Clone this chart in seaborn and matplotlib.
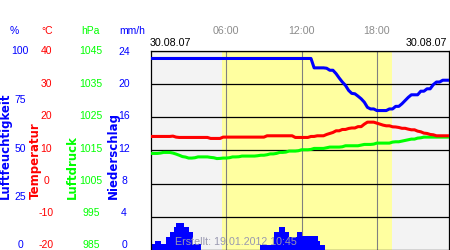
import numpy as np
import matplotlib
matplotlib.use("Agg")
import matplotlib.pyplot as plt
import seaborn as sns

# ---------------- data ----------------
# 15-minute samples from 00:00 to 23:45
humidity = [
    96.0, 96.0, 96.0, 96.0, 96.0, 96.0, 96.0, 96.0, 96.0, 96.0, 96.0, 96.0,
    96.0, 96.0, 96.0, 96.0, 96.0, 96.0, 96.0, 96.0, 96.0, 96.0, 96.0, 96.0,
    96.0, 96.0, 96.0, 96.0, 96.0, 96.0, 96.0, 96.0, 96.0, 96.0, 96.0, 96.0,
    96.0, 96.0, 96.0, 96.0, 96.0, 96.0, 96.0, 96.0, 96.0, 96.0, 96.0, 96.0,
    96.0, 96.0, 96.0, 96.0, 91.3, 91.3, 91.3, 91.3, 91.1, 90.1, 90.1, 88.4,
    86.2, 84.2, 82.5, 80.0, 78.5, 78.3, 77.1, 75.8, 74.1, 71.5, 70.7, 70.7,
    69.9, 69.9, 69.9, 69.9, 70.7, 70.7, 72.0, 72.0, 73.3, 74.9, 76.5, 77.8,
    77.8, 77.8, 79.6, 79.6, 80.8, 80.8, 82.9, 84.2, 84.2, 85.1, 85.1, 85.1,
]
temperature = [
    14.15, 14.15, 14.15, 14.15, 14.15, 14.15, 14.15, 14.25, 13.95, 13.85, 13.85, 13.85,
    13.85, 13.85, 13.85, 13.85, 13.85, 13.85, 13.85, 13.55, 13.55, 13.55, 13.55, 13.95,
    13.95, 13.95, 13.95, 13.95, 13.95, 13.95, 13.95, 13.95, 13.95, 13.95, 13.95, 13.95,
    13.95, 14.35, 14.35, 14.35, 14.35, 14.35, 14.35, 14.35, 14.35, 14.35, 13.85, 13.85,
    13.85, 13.85, 13.85, 14.15, 14.15, 14.35, 14.35, 14.35, 14.75, 15.05, 15.35, 15.85,
    15.85, 16.25, 16.25, 16.55, 16.70, 16.70, 17.10, 17.10, 17.85, 18.45, 18.45, 18.45,
    18.15, 17.85, 17.55, 17.35, 17.35, 17.05, 17.00, 16.85, 16.60, 16.60, 16.35, 16.15,
    16.15, 15.75, 15.55, 15.15, 15.05, 14.75, 14.65, 14.35, 14.35, 14.35, 14.35, 14.35,
]
pressure = [
    1014.05, 1014.05, 1014.05, 1014.15, 1014.35, 1014.35, 1014.35, 1014.15, 1013.85, 1013.50, 1013.10, 1012.95,
    1012.65, 1012.65, 1012.75, 1013.00, 1013.00, 1013.00, 1013.00, 1012.85, 1012.75, 1012.50, 1012.55, 1012.65,
    1012.65, 1012.75, 1013.00, 1013.00, 1013.05, 1013.25, 1013.25, 1013.25, 1013.25, 1013.25, 1013.35, 1013.50,
    1013.50, 1013.65, 1013.90, 1013.90, 1014.05, 1014.35, 1014.35, 1014.45, 1014.75, 1014.75, 1014.75, 1014.85,
    1015.15, 1015.15, 1015.15, 1015.25, 1015.55, 1015.55, 1015.55, 1015.55, 1015.75, 1015.95, 1015.95, 1015.95,
    1015.95, 1016.05, 1016.35, 1016.35, 1016.35, 1016.35, 1016.35, 1016.55, 1016.75, 1016.75, 1016.75, 1016.85,
    1017.15, 1017.15, 1017.15, 1017.15, 1017.15, 1017.45, 1017.55, 1017.55, 1017.75, 1017.95, 1018.15, 1018.35,
    1018.35, 1018.65, 1018.75, 1018.95, 1018.95, 1018.95, 1018.95, 1018.95, 1018.95, 1018.95, 1018.95, 1018.95,
]
# 10-minute precipitation rates (mm/h) from 00:00 to 13:50
precip = [
    0.69, 0.69, 1.08, 1.08, 1.08, 0.69, 0.69, 1.60, 1.60, 2.20, 2.20, 2.73,
    3.28, 3.28, 3.28, 3.28, 2.73, 2.73, 2.17, 2.17, 0.69, 0.69, 0.69, 0.69,
    0.0, 0.0, 0.0, 0.0, 0.0, 0.0, 0.0, 0.0, 0.0, 0.0, 0.0, 0.0,
    0.0, 0.0, 0.0, 0.0, 0.0, 0.0, 0.0, 0.0, 0.0, 0.0, 0.0, 0.0,
    0.0, 0.0, 0.0, 0.0, 0.60, 0.60, 0.60, 0.60, 0.60, 0.60, 0.60, 2.20,
    2.20, 2.80, 2.80, 2.80, 2.20, 2.20, 1.60, 1.60, 1.60, 1.60, 2.20, 2.20,
    1.68, 1.68, 1.68, 1.68, 1.68, 1.68, 1.68, 1.68, 1.12, 0.60, 0.60,
]
sunrise, sunset = 5.65, 19.2
time_ticks = [6, 12, 18]
time_labels = ["06:00", "12:00", "18:00"]
date_left = "30.08.07"
date_right = "30.08.07"
created = "Erstellt: 19.01.2012 10:45"

hum_ticks = [0, 25, 50, 75, 100]
temp_ticks = [-20, -10, 0, 10, 20, 30, 40]
pres_ticks = [985, 995, 1005, 1015, 1025, 1035, 1045]
prec_ticks = [0, 4, 8, 12, 16, 20, 24]

hours = np.arange(len(humidity)) * 0.25
precip_hours = np.arange(len(precip)) / 6.0

# ---------------- style ----------------
sns.set_theme(style="white")
plt.rcParams["font.family"] = ["Liberation Sans", "DejaVu Sans"]

BLUE = "#0000ff"
RED = "#ff0000"
GREEN = "#00ff00"

fig = plt.figure(figsize=(4.5, 2.5), dpi=100)
L, W = 151 / 450, 298 / 450
B, H = 0.0, 199.5 / 250
ax = fig.add_axes([L, B, W, H])
ax.set_facecolor("#f3f3f3")
ax.axvspan(sunrise, sunset, color="#ffffa0", lw=0, zorder=0)
ax.set_xlim(0, 23.75)
ax.set_ylim(prec_ticks[0], prec_ticks[-1])
ax.set_yticks(prec_ticks)
ax.set_yticklabels([])
ax.tick_params(axis="y", length=0)
ax.set_xticks(time_ticks)
ax.set_xticklabels(time_labels)
ax.xaxis.tick_top()
ax.tick_params(axis="x", length=0, labelsize=7.7, labelcolor="#8c8c8c", pad=10.5)
ax.grid(True, axis="y", color="black", lw=0.9)
ax.grid(True, axis="x", color="#808080", lw=0.8)
ax.set_axisbelow(True)
for s in ["top", "left", "right"]:
    ax.spines[s].set_color("black")
    ax.spines[s].set_linewidth(0.9)
ax.spines["bottom"].set_visible(False)

ax.bar(precip_hours, precip, width=1 / 6, align="edge", color=BLUE, lw=0, zorder=2)


def data_twin(lims):
    t = ax.twinx()
    t.set_ylim(*lims)
    t.set_yticks([])
    for s in t.spines.values():
        s.set_visible(False)
    return t


pres_ax = data_twin((pres_ticks[0], pres_ticks[-1]))
sns.lineplot(x=hours, y=pressure, ax=pres_ax, color=GREEN, lw=2.2)
temp_ax = data_twin((temp_ticks[0], temp_ticks[-1]))
sns.lineplot(x=hours, y=temperature, ax=temp_ax, color=RED, lw=2.2)
hum_ax = data_twin((hum_ticks[0], hum_ticks[-1]))
sns.lineplot(x=hours, y=humidity, ax=hum_ax, color=BLUE, lw=2.2)
for t in (pres_ax, temp_ax, hum_ax):
    t.set_ylabel("")
    t.set_xlim(0, 23.75)

# scale label axes (labels of the reference sit on a slightly tighter scale)
LB, LH = 1 - 244.5 / 250, 194 / 250


def label_axis(ticks, color, pad_px):
    la = fig.add_axes([L, LB, W, LH])
    la.patch.set_visible(False)
    for s in la.spines.values():
        s.set_visible(False)
    la.xaxis.set_visible(False)
    la.set_ylim(ticks[0], ticks[-1])
    la.set_yticks(ticks)
    la.set_yticklabels([str(v) for v in ticks], ha="center")
    la.tick_params(axis="y", length=0, labelsize=7.5, labelcolor=color,
                   pad=pad_px * 0.72)
    return la


label_axis(hum_ticks, BLUE, 131)
label_axis(temp_ticks, RED, 104.5)
label_axis(pres_ticks, GREEN, 60)
label_axis(prec_ticks, BLUE, 27)

# units
unit_y = 1 - 30.7 / 250
for x, txt, c in [(14, "%", BLUE), (46.7, "°C", RED), (90, "hPa", GREEN), (132.7, "mm/h", BLUE)]:
    fig.text(x / 450, unit_y, txt, ha="center", va="center", fontsize=7.5, color=c)

# rotated axis titles
title_y = 1 - 199.3 / 250
for x, txt, c in [(5, "Luftfeuchtigkeit", BLUE), (35, "Temperatur", RED),
                  (72, "Luftdruck", GREEN), (113, "Niederschlag", BLUE)]:
    fig.text(x / 450, title_y, txt, rotation=90, ha="center", va="bottom",
             fontsize=8.5, fontweight="bold", color=c, family=["DejaVu Sans"])

# dates
date_y = 1 - 43.3 / 250
fig.text(150 / 450, date_y, date_left, ha="left", va="center", fontsize=7.7, color="black")
fig.text(447 / 450, date_y, date_right, ha="right", va="center", fontsize=7.7, color="black")

# creation note
fig.text(175 / 450, 1 - 241.7 / 250, created, ha="left", va="center",
         fontsize=7.7, color="#9898b0", zorder=10)

fig.savefig("out.png", dpi=100)
